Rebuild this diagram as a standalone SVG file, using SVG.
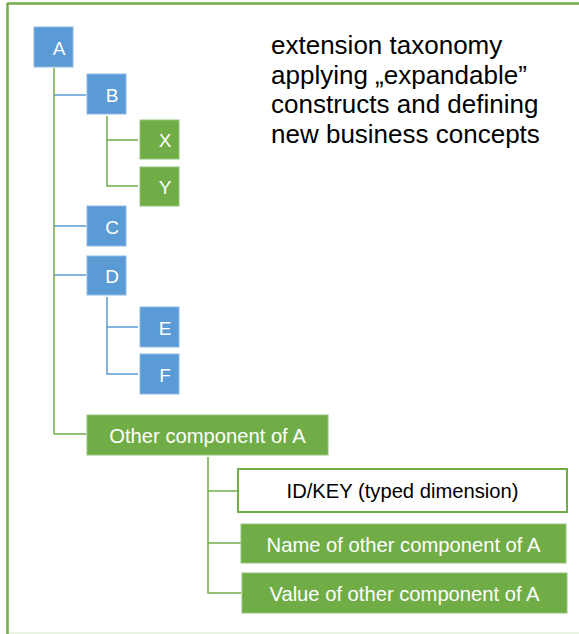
<svg xmlns="http://www.w3.org/2000/svg" width="579" height="634" viewBox="0 0 579 634">
<style>
.b{fill:#5b9bd5;stroke:#8fb9e3;stroke-width:1}
.g{fill:#70ad47;stroke:#94c47a;stroke-width:1}
.w{fill:#ffffff;stroke:#70ad47;stroke-width:2}
.lt{font-family:"Liberation Sans",Arial,sans-serif;font-size:19px;fill:#ffffff;text-anchor:middle}
.mt{font-family:"Liberation Sans",Arial,sans-serif;font-size:20.2px;fill:#ffffff;text-anchor:middle}
.cl{fill:none;stroke-width:1.5}
.cb{stroke:#5b9bd5}
.cg{stroke:#70ad47}
</style>
<rect x="0" y="0" width="579" height="634" fill="#ffffff"/>
<g id="frame">
<line x1="7" y1="3.5" x2="579" y2="3.5" stroke="#70ad47" stroke-width="2.5"/>
<line x1="7.5" y1="3" x2="7.5" y2="634" stroke="#70ad47" stroke-width="2.5"/>
<line x1="9" y1="633" x2="579" y2="633" stroke="#e2efda" stroke-width="1.5"/>
</g>
<g id="connectors" class="cl">
<line class="cg" x1="54" y1="68" x2="54" y2="434" stroke="#6aa86a"/>
<polyline class="cg" points="54,434 86,434"/>
<line class="cb" x1="54" y1="95" x2="86" y2="95"/>
<line class="cb" x1="54" y1="226" x2="86" y2="226"/>
<line class="cb" x1="54" y1="275" x2="86" y2="275"/>
<polyline class="cg" points="107,116 107,186 138,186"/>
<line class="cg" x1="107" y1="140" x2="138" y2="140"/>
<polyline class="cb" points="107,297 107,374 138,374"/>
<line class="cb" x1="107" y1="327" x2="138" y2="327"/>
<polyline class="cg" points="208,457 208,593 241,593"/>
<line class="cg" x1="208" y1="491" x2="237" y2="491"/>
<line class="cg" x1="208" y1="543" x2="241" y2="543"/>
</g>
<g id="A"><rect class="b" x="34" y="27" width="39" height="40"/><text class="lt" x="59" y="55">A</text></g>
<g id="B"><rect class="b" x="87" y="74" width="39" height="40"/><text class="lt" x="112" y="102">B</text></g>
<g id="X"><rect class="g" x="140" y="120" width="39" height="39"/><text class="lt" x="165" y="147">X</text></g>
<g id="Y"><rect class="g" x="140" y="167" width="39" height="39"/><text class="lt" x="165" y="194">Y</text></g>
<g id="C"><rect class="b" x="87" y="206" width="39" height="40"/><text class="lt" x="112" y="234">C</text></g>
<g id="D"><rect class="b" x="87" y="256" width="39" height="39"/><text class="lt" x="112" y="283">D</text></g>
<g id="E"><rect class="b" x="140" y="307" width="39" height="40"/><text class="lt" x="165" y="335">E</text></g>
<g id="F"><rect class="b" x="140" y="354" width="39" height="40"/><text class="lt" x="165" y="382">F</text></g>
<g id="other"><rect class="g" x="87" y="415" width="241" height="40"/><text class="mt" x="207.5" y="443">Other component of A</text></g>
<g id="idkey"><rect class="w" x="238" y="469" width="329" height="43"/><text class="mt" x="402.5" y="498" style="fill:#000000">ID/KEY (typed dimension)</text></g>
<g id="name"><rect class="g" x="241" y="524" width="325" height="39"/><text class="mt" x="403.5" y="552">Name of other component of A</text></g>
<g id="value"><rect class="g" x="242" y="573" width="325" height="40"/><text class="mt" x="404.5" y="601">Value of other component of A</text></g>
<g id="caption" font-family="'Liberation Sans',Arial,sans-serif" font-size="26" fill="#000000">
<text x="271" y="54">extension taxonomy</text>
<text x="271" y="84">applying „expandable”</text>
<text x="271" y="113">constructs and defining</text>
<text x="271" y="143">new business concepts</text>
</g>
</svg>
